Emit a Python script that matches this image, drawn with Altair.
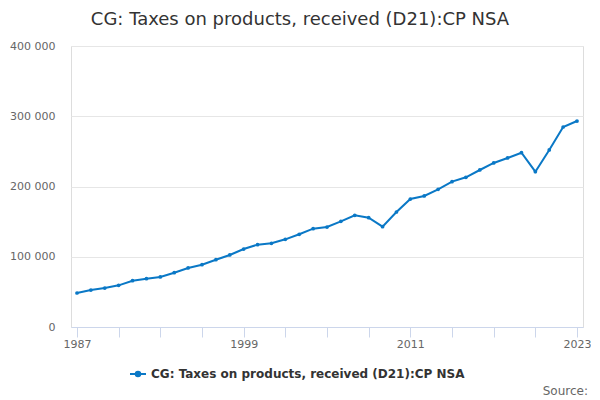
import altair as alt
import pandas as pd

years = list(range(1987, 2024))
values = [48400, 52600, 55500, 59300, 65900, 68800, 71200, 77300, 84000, 88700,
          95800, 102500, 111000, 117200, 119100, 124800, 132000, 140000, 142300,
          150400, 159000, 155600, 142800, 163700, 182200, 186500, 196000, 206900,
          213100, 223500, 233500, 240600, 248100, 221100, 252000, 284700, 293200]
series_name = "CG: Taxes on products, received (D21):CP NSA"
y_ticks = [0, 100000, 200000, 300000, 400000]
x_ticks = list(range(1987, 2024, 3))
source_text = ["Source:"]

df = pd.DataFrame({"year": years, "value": values, "series": series_name})
FONT = "DejaVu Sans"
COLOR = "#0a78c6"

x_enc = alt.X("year:Q",
              scale=alt.Scale(domain=[1986.57, 2023.43], nice=False, zero=False),
              axis=alt.Axis(values=x_ticks, title=None, grid=False,
                            labelExpr="(datum.value - 1987) % 12 == 0 ? toString(datum.value) : ''",
                            domainColor="#ccd6eb", tickColor="#ccd6eb", tickSize=10,
                            labelColor="#666666", labelFontSize=11, labelFont=FONT,
                            labelPadding=1))
y_enc = alt.Y("value:Q",
              scale=alt.Scale(domain=[0, 400000], nice=False),
              axis=alt.Axis(values=y_ticks, title=None, domain=False, ticks=False,
                            tickSize=0, gridColor="#e6e6e6",
                            labelExpr="replace(format(datum.value, ','), ',', ' ')",
                            labelColor="#666666", labelFontSize=11, labelFont=FONT,
                            labelPadding=16))

line = alt.Chart(df).mark_line(strokeWidth=2).encode(
    x=x_enc, y=y_enc,
    color=alt.Color("series:N",
                    scale=alt.Scale(domain=[series_name], range=[COLOR]),
                    legend=alt.Legend(title=None, orient="none", legendX=58, legendY=319,
                                      symbolType="M-1,0L1,0M0.28,0A0.28,0.28 0 1,1 -0.28,0A0.28,0.28 0 1,1 0.28,0",
                                      symbolSize=256, symbolStrokeWidth=2,
                                      symbolFillColor=COLOR, symbolStrokeColor=COLOR,
                                      labelFont=FONT, labelFontSize=12, labelFontWeight="bold",
                                      labelColor="#333333", labelLimit=600)))
points = alt.Chart(df).mark_point(filled=True, size=14, opacity=1, color=COLOR).encode(
    x="year:Q", y="value:Q")

src = alt.Chart(pd.DataFrame({"t": source_text})).mark_text(
    align="right", baseline="middle", font=FONT, fontSize=12, color="#666666"
).encode(text="t:N", x=alt.value(517), y=alt.value(345))

chart = alt.layer(line, points, src).properties(
    width=512, height=281,
    autosize=alt.AutoSizeParams(type="none"),
    padding={"left": 63, "top": 38, "right": 8, "bottom": 72},
    title=alt.TitleParams(series_name, font=FONT, fontSize=18, fontWeight="normal",
                          color="#333333", anchor="middle", frame="group", dx=-27, offset=11),
).configure_view(stroke=None).configure(background="white")

chart.save("out.html", embed_options={"renderer": "svg", "actions": False})
